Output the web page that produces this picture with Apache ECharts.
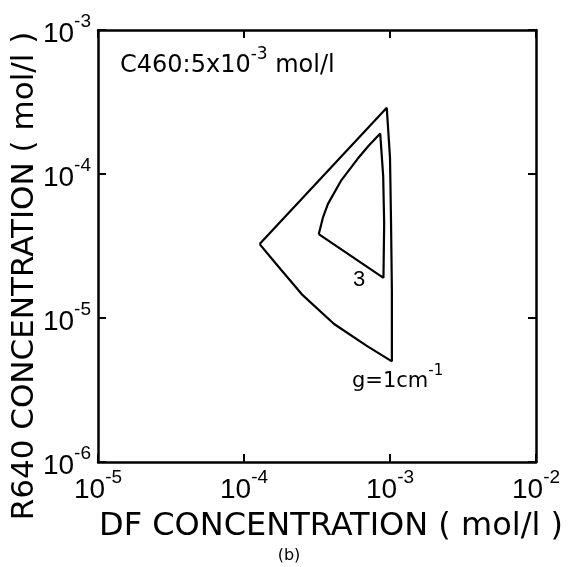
<!DOCTYPE html>
<html>
<head>
<meta charset="utf-8">
<script src="https://cdn.jsdelivr.net/npm/echarts@6/dist/echarts.min.js"></script>
<style>html,body{margin:0;padding:0;background:#fff;}#c{width:569px;height:567px;}</style>
</head>
<body>
<div id="c"></div>
<script>
// Outer contour: g = 1 cm^-1 (left vertex -> top vertex is a straight edge)
const outerDF   = [1.28e-4, 9.50e-4, 1.00e-3, 1.016e-3, 1.03e-3, 1.03e-3, 6.98e-4, 4.14e-4, 2.49e-4, 1.77e-4, 1.28e-4];
const outerR640 = [3.26e-5, 2.88e-4, 1.30e-4, 4.77e-5, 1.58e-5, 5.0e-6, 6.38e-6, 9.08e-6, 1.46e-5, 2.20e-5, 3.26e-5];
// Inner contour: g = 3 cm^-1
const innerDF   = [3.25e-4, 3.48e-4, 3.76e-4, 4.61e-4, 5.98e-4, 7.14e-4, 8.57e-4, 8.98e-4, 9.12e-4, 9.02e-4, 3.25e-4];
const innerR640 = [3.82e-5, 5.02e-5, 6.20e-5, 8.95e-5, 1.27e-4, 1.57e-4, 1.91e-4, 9.69e-5, 4.55e-5, 1.90e-5, 3.82e-5];
// Axis ranges (tick labels are the decades 10^-5..10^-2 and 10^-6..10^-3)
const xRange = [1e-5, 1e-2];
const yRange = [1e-6, 1e-3];

function pairs(xs, ys) { return xs.map((x, i) => [x, ys[i]]); }

const numFont = 'Liberation Sans';
const txtFont = 'DejaVu Sans';
function expLabel(v) {
  const e = Math.round(Math.log10(v));
  return '{a|10}{s|-' + (-e) + '}';
}
const richLab = {
  a: { fontSize: 28, fontFamily: numFont, color: '#000', lineHeight: 36, verticalAlign: 'bottom' },
  s: { fontSize: 19, fontFamily: numFont, color: '#000', lineHeight: 20, verticalAlign: 'top' }
};
const lineSt = { color: '#000', width: 2.5 };
const tickSt = { show: true, inside: true, length: 8, lineStyle: { color: '#000', width: 2 } };

function xAx(pos, showLab) {
  return {
    type: 'log', logBase: 10, min: xRange[0], max: xRange[1], position: pos,
    axisLine: { show: true, lineStyle: lineSt }, axisTick: tickSt, splitLine: { show: false },
    axisLabel: { show: showLab, formatter: expLabel, rich: richLab, margin: 6, showMinLabel: true, showMaxLabel: true }
  };
}
function yAx(pos, showLab) {
  return {
    type: 'log', logBase: 10, min: yRange[0], max: yRange[1], position: pos,
    axisLine: { show: true, lineStyle: lineSt }, axisTick: tickSt, splitLine: { show: false },
    axisLabel: { show: showLab, formatter: expLabel, rich: richLab, margin: 7, showMinLabel: true, showMaxLabel: true }
  };
}

const chart = echarts.init(document.getElementById('c'));
chart.setOption({
  animation: false,
  backgroundColor: '#fff',
  grid: { left: 98, right: 33, top: 30, bottom: 105 },
  xAxis: [xAx('bottom', true), xAx('top', false)],
  yAxis: [yAx('left', true), yAx('right', false)],
  series: [
    { type: 'line', xAxisIndex: 0, yAxisIndex: 0, data: pairs(outerDF, outerR640), symbol: 'none', lineStyle: { color: '#000', width: 2.2 } },
    { type: 'line', xAxisIndex: 0, yAxisIndex: 0, data: pairs(innerDF, innerR640), symbol: 'none', lineStyle: { color: '#000', width: 2.2 } }
  ],
  graphic: [
    { type: 'text', left: 120, top: 46, style: {
        text: '{a|C460:5x10}{s|-3}{a| mol/l}',
        rich: {
          a: { fontSize: 24, fontFamily: txtFont, fill: '#000', lineHeight: 32, verticalAlign: 'bottom' },
          s: { fontSize: 17, fontFamily: txtFont, fill: '#000', lineHeight: 18, verticalAlign: 'top' }
        } } },
    { type: 'text', x: 359, y: 280, style: { text: '3', fontSize: 22, fontFamily: numFont, fill: '#000', align: 'center', verticalAlign: 'middle' } },
    { type: 'text', left: 352, top: 364, style: {
        text: '{a|g=1cm}{s|-1}',
        rich: {
          a: { fontSize: 21, fontFamily: txtFont, fill: '#000', lineHeight: 28, verticalAlign: 'bottom' },
          s: { fontSize: 15, fontFamily: txtFont, fill: '#000', lineHeight: 16, verticalAlign: 'top' }
        } } },
    { type: 'text', x: 25, y: 276, rotation: Math.PI / 2, style: { text: 'R640 CONCENTRATION ( mol/l )', fontSize: 31, fontFamily: txtFont, fill: '#000', align: 'center', verticalAlign: 'middle' } },
    { type: 'text', x: 331, y: 527, style: { text: 'DF CONCENTRATION ( mol/l )', fontSize: 32, fontFamily: txtFont, fill: '#000', align: 'center', verticalAlign: 'middle' } },
    { type: 'text', x: 289, y: 556, style: { text: '(b)', fontSize: 16, fontFamily: txtFont, fill: '#000', align: 'center', verticalAlign: 'middle' } }
  ]
});
</script>
</body>
</html>
